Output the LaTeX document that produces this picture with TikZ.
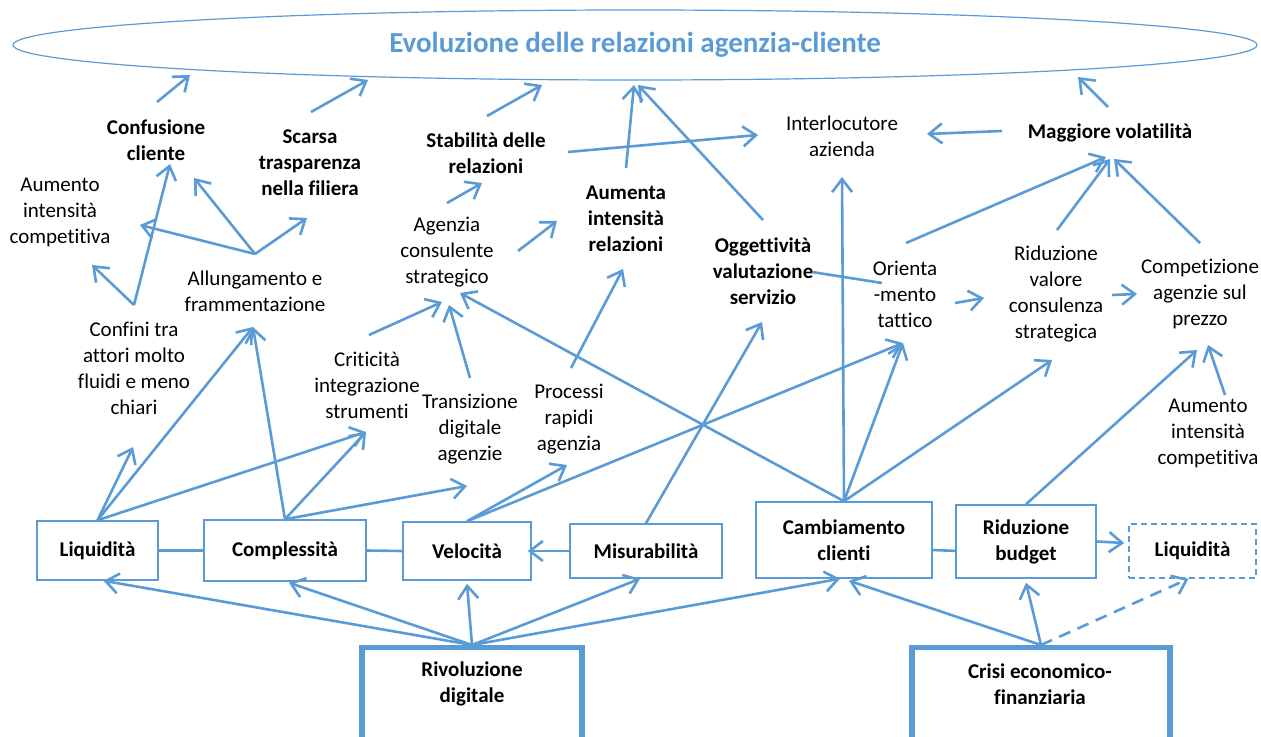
\documentclass[tikz,border=0pt]{standalone}
\usepackage{fontspec}
\setmainfont{Carlito}[Ligatures={NoCommon}]
\usetikzlibrary{arrows.meta,shapes.geometric}

\definecolor{linkblue}{RGB}{91,155,213}

\tikzset{
  txt/.style={align=center, inner sep=0pt, font=\fontsize{10.5pt}{13pt}\selectfont},
  txtb/.style={txt, font=\fontsize{10.5pt}{13pt}\selectfont\bfseries},
  box/.style={draw=linkblue, line width=0.75pt, inner sep=0pt, align=center,
    font=\fontsize{10.5pt}{13pt}\selectfont\bfseries},
  bigbox/.style={draw=linkblue, line width=2.6pt, minimum height=100pt, anchor=north},
  arr/.style={linkblue, line width=1.3pt, -{Straight Barb[length=6.5pt,width=10pt]}},
  link/.style={linkblue, line width=1.3pt},
}

\begin{document}
\begin{tikzpicture}[x=0.5pt, y=-0.5pt]

        \useasboundingbox (0,0) rectangle (1261,737);

        % Goal ellipse
        \node[draw=linkblue, line width=0.6pt, ellipse, minimum width=622pt, minimum height=35pt,
              inner sep=0pt, text=linkblue, font=\fontsize{14.5pt}{17pt}\selectfont\bfseries]
              (evol) at (635,45) {Evoluzione delle relazioni agenzia-cliente};

        % Upper level
        \node[txtb] (confus) at (156,140) {Confusione\\cliente};
        \node[txtb] (scarsa) at (310,163) {Scarsa\\trasparenza\\nella filiera};
        \node[txtb] (stab) at (486,153) {Stabilità delle\\relazioni};
        \node[txtb] (aumrel) at (626,219) {Aumenta\\intensità\\relazioni};
        \node[txt] (interl) at (842,136) {Interlocutore\\azienda};
        \node[txtb] (magg) at (1110,133) {Maggiore volatilità};

        % Middle level
        \node[txt] (aumsx) at (60,212) {Aumento\\intensità\\competitiva};
        \node[txt] (allung) at (255,291) {Allungamento e\\frammentazione};
        \node[txt] (agenz) at (447,252) {Agenzia\\consulente\\strategico};
        \node[txtb] (ogg) at (763,271) {Oggettività\\valutazione\\servizio};
        \node[txt] (orient) at (905,294) {Orienta\\-mento\\tattico};
        \node[txt] (ridval) at (1056,294) {Riduzione\\valore\\consulenza\\strategica};
        \node[txt] (compet) at (1200,294) {Competizione\\agenzie sul\\prezzo};

        % Lower level
        \node[txt] (confini) at (134,368) {Confini tra\\attori molto\\fluidi e meno\\chiari};
        \node[txt] (critic) at (367,385) {Criticità\\integrazione\\strumenti};
        \node[txt] (transiz) at (470,429) {Transizione\\digitale\\agenzie};
        \node[txt] (proc) at (569,419) {Processi\\rapidi\\agenzia};
        \node[txt] (aumdx) at (1208,433) {Aumento\\intensità\\competitiva};

        % Driver boxes
        \node[box, minimum width=60.5pt, minimum height=29.5pt] (liq) at (97.5,550.5) {Liquidità};
        \node[box, minimum width=81pt, minimum height=30.5pt] (compl) at (285,550.5) {Complessità};
        \node[box, minimum width=64pt, minimum height=29pt] (vel) at (467,551) {Velocità};
        \node[box, minimum width=76pt, minimum height=27pt] (mis) at (646,551) {Misurabilità};
        \node[box, minimum width=88pt, minimum height=38pt] (camb) at (844,540) {Cambiamento\\clienti};
        \node[box, minimum width=70pt, minimum height=36.5pt] (ridb) at (1026,541.5) {Riduzione\\budget};
        \node[box, dash pattern=on 3pt off 2pt, minimum width=63.5pt, minimum height=27pt]
              (liqb) at (1192.5,551) {Liquidità};

        % Root causes
        \node[bigbox, minimum width=110pt] (riv) at (472,645) {};
        \node[bigbox, minimum width=129pt] (crisi) at (1041,645) {};
        \node[txtb] (rivtxt) at (472,684) {Rivoluzione\\digitale};
        \node[txtb] (crisitxt) at (1040,684) {Crisi economico-\\finanziaria};

        % Connector ends
        \coordinate (e-conf) at (190,75);
        \coordinate (e-scar) at (368,80);
        \coordinate (e-stab) at (542,85);
        \coordinate (e-aum) at (634,85);
        \coordinate (e-ogg) at (638,85);
        \coordinate (e-magg) at (1078,77);
        \coordinate (confus-o) at (157,102);
        \coordinate (confus-i1) at (194,178);
        \coordinate (confus-i2) at (170,164);
        \coordinate (scarsa-o) at (311,112);
        \coordinate (scarsa-i) at (307,218);
        \coordinate (stab-o) at (487,116);
        \coordinate (stab-r) at (568,152);
        \coordinate (stab-i) at (482,183);
        \coordinate (aumrel-o) at (626,168);
        \coordinate (aumrel-i1) at (557,221);
        \coordinate (aumrel-i2) at (623,269);
        \coordinate (interl-l) at (758,135);
        \coordinate (interl-r) at (927,134);
        \coordinate (interl-b) at (842,177);
        \coordinate (magg-o) at (1108,107);
        \coordinate (magg-l) at (1002,131);
        \coordinate (magg-i1) at (1106,157);
        \coordinate (magg-i2) at (1110,159);
        \coordinate (magg-i3) at (1114,159);
        \coordinate (aumsx-i1) at (140,225);
        \coordinate (aumsx-i2) at (92,265);
        \coordinate (allung-o) at (255,254);
        \coordinate (allung-i) at (253,327);
        \coordinate (agenz-o) at (447,203);
        \coordinate (agenz-r) at (518,251);
        \coordinate (agenz-i1) at (442,302);
        \coordinate (agenz-i2) at (449,305);
        \coordinate (agenz-i3) at (460,293);
        \coordinate (ogg-o) at (763,220);
        \coordinate (ogg-r) at (812,272);
        \coordinate (ogg-i) at (762,322);
        \coordinate (orient-l) at (882,283);
        \coordinate (orient-r) at (955,303);
        \coordinate (orient-u) at (906,243);
        \coordinate (orient-i) at (903,343);
        \coordinate (ridval-l) at (984,298);
        \coordinate (ridval-r) at (1112,295);
        \coordinate (ridval-u) at (1057,230);
        \coordinate (ridval-i) at (1052,360);
        \coordinate (compet-l) at (1137,294);
        \coordinate (compet-u) at (1200,243);
        \coordinate (compet-i1) at (1197,350);
        \coordinate (compet-i2) at (1208,345);
        \coordinate (confini-o) at (134,305);
        \coordinate (confini-i) at (133,447);
        \coordinate (critic-o) at (369,335);
        \coordinate (critic-i) at (366,432);
        \coordinate (transiz-o) at (470,378);
        \coordinate (transiz-i) at (467,486);
        \coordinate (proc-o) at (571,368);
        \coordinate (proc-i) at (567,465);
        \coordinate (aumdx-o) at (1225,395);

        % Into the ellipse
        \draw[arr] (confus-o) -- (e-conf);
        \draw[arr] (scarsa-o) -- (e-scar);
        \draw[arr] (stab-o) -- (e-stab);
        \draw[arr] (aumrel-o) -- (e-aum);
        \draw[arr] (ogg-o) -- (e-ogg);
        \draw[arr] (magg-o) -- (e-magg);

        % Upper links
        \draw[arr] (stab-r) -- (interl-l);
        \draw[arr] (magg-l) -- (interl-r);
        \draw[arr] (agenz-o) -- (stab-i);
        \draw[arr] (agenz-r) -- (aumrel-i1);
        \draw[arr] (proc-o) -- (aumrel-i2);
        \draw[arr] (critic-o) -- (agenz-i1);
        \draw[arr] (transiz-o) -- (agenz-i2);
        \draw[link] (ogg-r) -- (orient-l);
        \draw[arr] (orient-r) -- (ridval-l);
        \draw[arr] (ridval-r) -- (compet-l);
        \draw[arr] (orient-u) -- (magg-i1);
        \draw[arr] (ridval-u) -- (magg-i2);
        \draw[arr] (compet-u) -- (magg-i3);
        \draw[arr] (aumdx-o) -- (compet-i2);

        % Left cluster
        \draw[arr] (allung-o) -- (aumsx-i1);
        \draw[arr] (allung-o) -- (confus-i1);
        \draw[arr] (allung-o) -- (scarsa-i);
        \draw[arr] (confini-o) -- (confus-i2);
        \draw[arr] (confini-o) -- (aumsx-i2);

        % From the driver boxes
        \draw[arr] (liq.north) -- (confini-i);
        \draw[arr] (liq.north) -- (allung-i);
        \draw[arr] (liq.north) -- (critic-i);
        \draw[arr] (compl.north) -- (allung-i);
        \draw[arr] (compl.north) -- (critic-i);
        \draw[arr] (compl.north) -- (transiz-i);
        \draw[arr] (vel.north) -- (proc-i);
        \draw[arr] (vel.north) -- (orient-i);
        \draw[arr] (mis.north) -- (ogg-i);
        \draw[arr] (camb.north) -- (interl-b);
        \draw[arr] (camb.north) -- (agenz-i3);
        \draw[arr] (camb.north) -- (orient-i);
        \draw[arr] (camb.north) -- (ridval-i);
        \draw[arr] (ridb.north) -- (compet-i1);

        % Between the boxes
        \draw[link] (liq.east) -- (compl.west);
        \draw[link] (compl.east) -- (vel.west);
        \draw[arr] (mis.west) -- ([xshift=-2pt]vel.east);
        \draw[link] ([yshift=-5pt]camb.east) -- ([yshift=-4.7pt]ridb.west);
        \draw[arr] (ridb.east) -- ([xshift=-2pt, yshift=4pt]liqb.west);

        % Root causes to drivers
        \draw[arr] (riv.north) -- ([xshift=3pt]liq.south);
        \draw[arr] (riv.north) -- ([xshift=2pt, yshift=-0.5pt]compl.south);
        \draw[arr] (riv.north) -- ([yshift=-1.5pt]vel.south);
        \draw[arr] (riv.north) -- ([xshift=-3pt]mis.south);
        \draw[arr] (riv.north) -- ([xshift=-2pt]camb.south);
        \draw[arr] (crisi.north) -- ([xshift=2.5pt, yshift=-1pt]camb.south);
        \draw[arr] (crisi.north) -- ([yshift=-2pt]ridb.south);
        \draw[arr, dash pattern=on 6pt off 4pt] (crisi.north) -- ([xshift=-2pt]liqb.south);

\end{tikzpicture}
\end{document}
